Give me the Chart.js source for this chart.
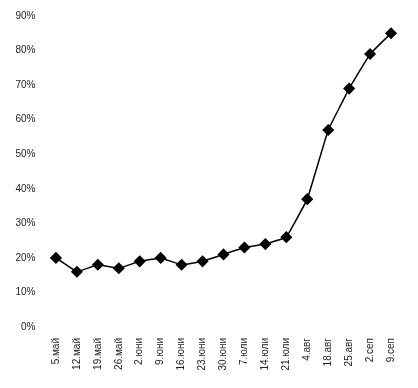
<!DOCTYPE html>
<html><head><meta charset="utf-8">
<script src="https://cdn.jsdelivr.net/npm/chart.js@4/dist/chart.umd.min.js"></script>
<style>html,body{margin:0;padding:0;background:#fff}#w{width:418px;height:388px}</style>
</head><body><div id="w"><canvas id="c"></canvas></div>
<script>
const categories = ["5.май","12.май","19.май","26.май","2.юни","9.юни","16.юни","23.юни","30.юни","7.юли","14.юли","21.юли","4.авг","18.авг","25.авг","2.сеп","9.сеп"];
const values = [20,16,18,17,19,20,18,19,21,23,24,26,37,57,69,79,85];
const yTicks = [0,10,20,30,40,50,60,70,80,90];

new Chart(document.getElementById('c'), {
  type: 'line',
  data: { labels: categories, datasets: [{
    data: values, borderColor: '#000', backgroundColor: '#000', borderWidth: 1.5,
    pointStyle: 'rectRot', pointRadius: 5, pointHoverRadius: 5, tension: 0.05
  }]},
  options: {
    responsive: true, maintainAspectRatio: false, animation: false,
    layout: { padding: { top: 16, right: 16.5, bottom: 0, left: 0 } },
    plugins: { legend: { display: false }, tooltip: { enabled: false } },
    scales: {
      x: { offset: true, grid: { display: false }, border: { display: false },
        ticks: { minRotation: 90, maxRotation: 90, autoSkip: false, padding: 3,
          color: '#222', font: { family: 'Liberation Sans', size: 10 } },
        afterFit: s => { s.height = 61; } },
      y: { min: 0, max: 90, grid: { display: false }, border: { display: false },
        afterBuildTicks: s => { s.ticks = yTicks.map(v => ({ value: v })); },
        ticks: { callback: v => v + '%', color: '#222', padding: 2,
          font: { family: 'Liberation Sans', size: 10 } },
        afterFit: s => { s.width = 45.5; } }
    }
  }
});
</script></body></html>
